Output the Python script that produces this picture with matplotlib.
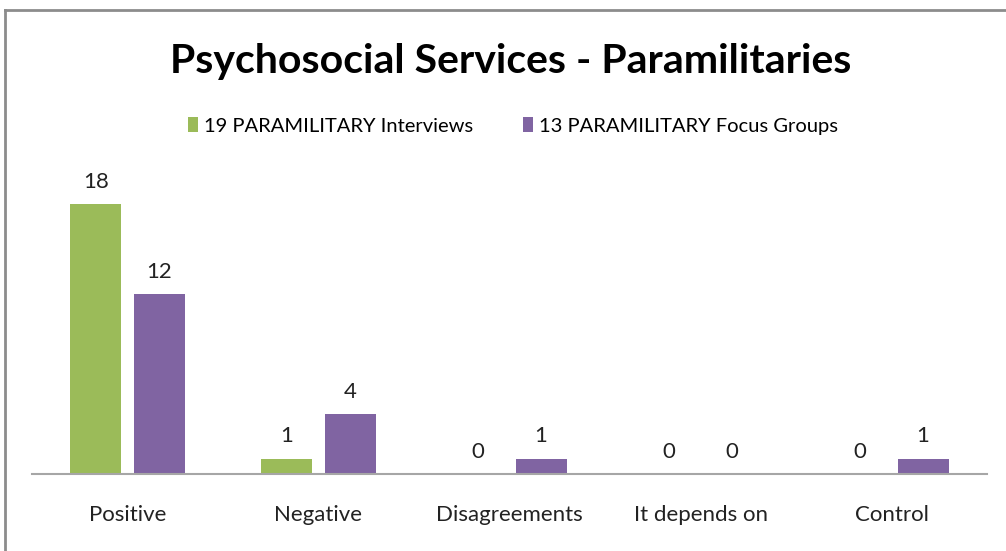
import numpy as np
import matplotlib.pyplot as plt
from matplotlib.lines import Line2D

categories = ['Positive', 'Negative', 'Disagreements', 'It depends on', 'Control']
interviews = [18, 1, 0, 0, 0]
focus_groups = [12, 4, 1, 0, 1]
series_names = ['19 PARAMILITARY Interviews', '13 PARAMILITARY Focus Groups']
colors = ['#9BBB59', '#8064A2']

plt.rcParams['font.family'] = ['Lato', 'DejaVu Sans']

W, H = 1006, 551
fig = plt.figure(figsize=(W / 100, H / 100), dpi=100)

# plot area in pixels: left 32, right 987, baseline 474
ax = fig.add_axes([32 / W, 1 - 474 / H, (987 - 32) / W, (474 - 174) / H])
x = np.arange(len(categories))
bw = 0.267
off = 0.165
b1 = ax.bar(x - off, interviews, bw, color=colors[0], label=series_names[0])
b2 = ax.bar(x + off, focus_groups, bw, color=colors[1], label=series_names[1])
for bars in (b1, b2):
    ax.bar_label(bars, padding=9, fontsize=16, color='#222222')

ax.set_xlim(-0.5, len(categories) - 0.5)
ax.set_ylim(0, 20)
ax.set_yticks([])
ax.set_xticks(x)
ax.set_xticklabels(categories, fontsize=16, color='#222222')
ax.tick_params(axis='x', length=0, pad=22)
for s in ['top', 'right', 'left']:
    ax.spines[s].set_visible(False)
ax.spines['bottom'].set_color('#A6A6A6')
ax.spines['bottom'].set_linewidth(1.5)

fig.text(0.508, 1 - 61 / H, 'Psychosocial Services - Paramilitaries',
         ha='center', va='center', fontsize=29.5, fontweight='bold')

fig.legend(loc='center', bbox_to_anchor=(0.51, 1 - 126 / H), ncol=2,
           frameon=False, fontsize=14.5, handlelength=0.5, handleheight=0.7,
           handletextpad=0.3, columnspacing=2.5)

# outer border (top and left only visible)
fig.add_artist(Line2D([5 / W, 5 / W], [0, 1 - 10 / H], transform=fig.transFigure,
                      color='#8C8C8C', lw=2))
fig.add_artist(Line2D([5 / W, 1], [1 - 10 / H, 1 - 10 / H], transform=fig.transFigure,
                      color='#8C8C8C', lw=2))

fig.savefig('out.png', dpi=100, facecolor='white')
